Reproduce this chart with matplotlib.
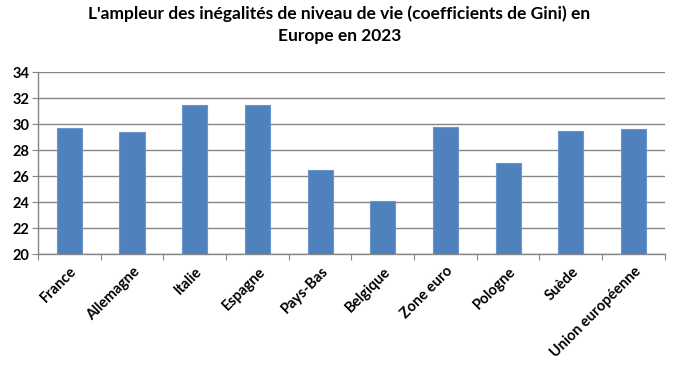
import matplotlib
matplotlib.use("Agg")
import matplotlib.pyplot as plt
import matplotlib.transforms as mtransforms
import numpy as np

categories = ["France", "Allemagne", "Italie", "Espagne", "Pays-Bas", "Belgique",
              "Zone euro", "Pologne", "Suède", "Union européenne"]
gini = [29.7, 29.4, 31.5, 31.5, 26.5, 24.1, 29.8, 27.0, 29.5, 29.6]
yticks = [20, 22, 24, 26, 28, 30, 32, 34]
title = "L'ampleur des inégalités de niveau de vie (coefficients de Gini) en\nEurope en 2023"

plt.rcParams['font.family'] = ['Lato', 'DejaVu Sans']

fig = plt.figure(figsize=(6.79, 3.66), dpi=100)
ax = fig.add_axes([0.056, 0.306, 0.923, 0.497])

x = np.arange(len(categories))
ax.bar(x, gini, width=0.4, bottom=0, color="#4F81BD", edgecolor="#6A96CC",
       linewidth=0.8, zorder=3)

ax.set_ylim(20, 34)
ax.set_xlim(-0.5, len(categories) - 0.5)
ax.set_yticks(yticks)
ax.set_yticklabels([str(v) for v in yticks], fontsize=10.5, fontweight='bold')
ax.yaxis.grid(True, color="#868686", linewidth=1.0, zorder=0)

ax.set_xticks(np.arange(len(categories) + 1) - 0.5)
ax.set_xticklabels([])
ax.set_xticks(x, minor=True)
ax.set_xticklabels(categories, minor=True, rotation=45, ha='right', va='center',
                   rotation_mode='anchor', fontsize=10.5, fontweight='bold')
ax.tick_params(axis='x', which='minor', length=0, pad=11)
ax.tick_params(axis='x', which='major', length=4, color="#868686", direction='out')
ax.tick_params(axis='y', length=4, color="#868686", direction='out', pad=2)

offset = mtransforms.ScaledTranslation(4 / 72, 0, fig.dpi_scale_trans)
for lab in ax.get_xticklabels(minor=True):
    lab.set_transform(lab.get_transform() + offset)

for s in ["top", "right"]:
    ax.spines[s].set_visible(False)
for s in ["left", "bottom"]:
    ax.spines[s].set_color("#868686")
    ax.spines[s].set_linewidth(1.0)

fig.suptitle(title, fontsize=12.5, fontweight='bold', y=0.985, linespacing=1.45)

fig.savefig("out.png", dpi=100)
